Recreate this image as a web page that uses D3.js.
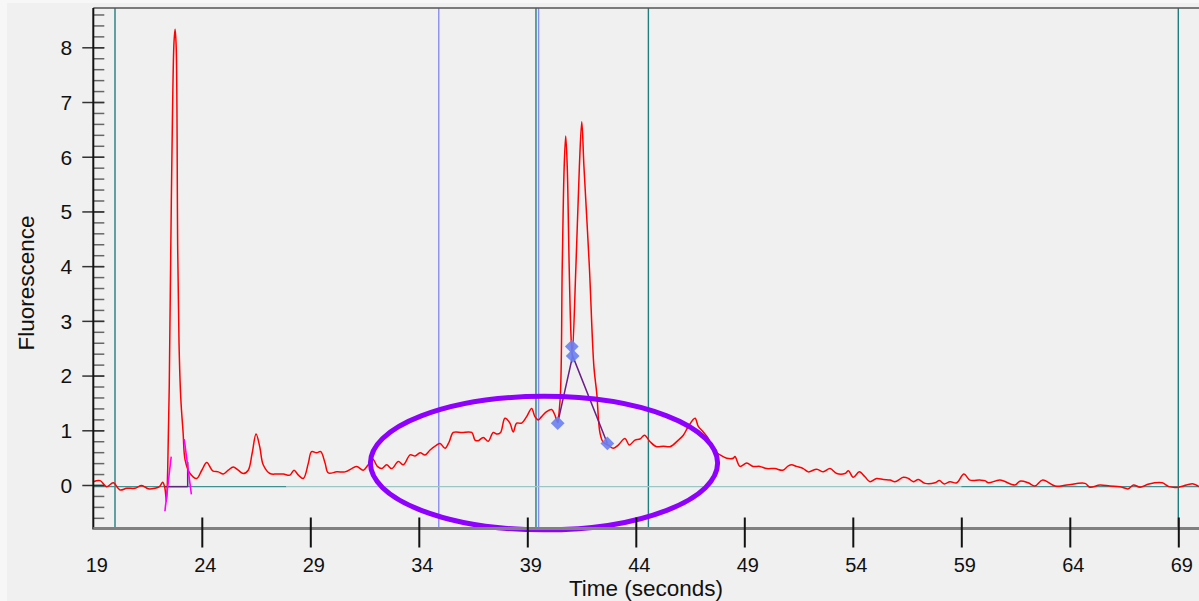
<!DOCTYPE html>
<html>
<head>
<meta charset="utf-8">
<script src="https://cdn.jsdelivr.net/npm/d3@7"></script>
<style>
  html, body { margin: 0; padding: 0; background: #f7f7f7; }
  svg { display: block; font-family: "Liberation Sans", Arial, sans-serif; }
</style>
</head>
<body>
<svg id="chart" width="1199" height="601"></svg>
<script>
// ---- data ----
const time = [19.00,19.31,19.62,19.92,20.23,20.54,20.92,21.23,21.53,21.84,22.05,22.20,22.30,22.37,22.43,22.50,22.57,22.65,22.72,22.77,22.82,22.89,22.95,23.03,23.14,23.23,23.46,23.77,24.00,24.23,24.50,24.76,24.99,25.22,25.45,25.68,25.91,26.14,26.32,26.50,26.67,26.83,27.14,27.45,27.76,28.06,28.25,28.45,28.68,28.91,29.06,29.29,29.48,29.68,29.83,30.22,30.60,30.91,31.14,31.44,31.67,31.88,32.09,32.29,32.52,32.75,33.06,33.29,33.60,33.83,34.06,34.29,34.52,34.82,34.98,35.21,35.40,35.59,35.98,36.44,36.59,36.74,36.97,37.20,37.43,37.61,37.77,37.97,38.20,38.35,38.51,38.74,38.97,39.20,39.35,39.51,39.66,39.89,40.12,40.27,40.38,40.51,40.61,40.70,40.77,40.84,40.93,41.01,41.07,41.24,41.40,41.51,41.61,41.86,42.07,42.20,42.35,42.50,42.73,42.96,43.19,43.50,43.70,43.96,44.19,44.40,44.66,44.96,45.27,45.58,45.96,46.19,46.42,46.73,46.88,47.11,47.34,47.57,47.88,48.19,48.49,48.57,48.80,49.11,49.41,49.72,50.03,50.41,50.77,51.03,51.18,51.41,51.72,51.95,52.34,52.64,52.95,53.26,53.64,53.80,54.02,54.30,54.56,54.79,55.10,55.41,55.72,55.94,56.33,56.56,56.79,57.02,57.33,57.79,57.99,58.21,58.48,58.79,59.12,59.40,59.85,60.09,60.25,60.78,61.47,61.70,62.08,62.39,62.75,63.32,63.86,64.70,64.93,65.39,65.85,66.31,66.70,66.93,67.24,67.65,68.26,68.57,69.00,69.38,69.69,69.95];
const fluorescence = [0.06,0.08,-0.03,0.04,-0.09,-0.06,-0.06,-0.01,-0.07,-0.06,-0.03,0.05,-0.06,-0.30,0.30,1.80,4.30,6.80,8.10,8.33,8.00,4.30,2.60,1.60,0.95,0.46,0.21,0.12,0.27,0.41,0.26,0.24,0.20,0.27,0.33,0.27,0.21,0.27,0.58,0.93,0.70,0.37,0.21,0.20,0.20,0.18,0.27,0.18,0.12,0.40,0.61,0.59,0.61,0.40,0.22,0.24,0.24,0.30,0.34,0.27,0.37,0.47,0.34,0.30,0.37,0.30,0.43,0.37,0.55,0.53,0.59,0.55,0.64,0.73,0.76,0.67,0.79,0.96,0.96,0.96,0.82,0.81,0.87,0.80,0.96,0.93,0.96,1.22,1.13,0.97,1.13,1.13,1.25,1.40,1.25,1.19,1.25,1.34,1.38,1.28,1.16,1.55,3.99,5.82,6.38,5.82,3.99,2.77,2.35,3.99,5.82,6.64,5.82,3.99,2.16,1.68,0.95,0.78,0.73,0.67,0.73,0.85,0.73,0.82,0.84,0.91,0.79,0.70,0.71,0.70,0.82,0.91,1.07,1.22,1.07,0.97,0.85,0.64,0.55,0.49,0.49,0.52,0.34,0.40,0.34,0.34,0.30,0.30,0.27,0.35,0.37,0.34,0.30,0.24,0.29,0.24,0.30,0.21,0.21,0.26,0.14,0.24,0.15,0.06,0.12,0.10,0.09,0.06,0.14,0.12,0.06,0.10,0.03,0.04,0.08,0.02,0.06,0.04,0.20,0.09,0.09,0.08,0.04,0.09,0.00,0.07,0.04,-0.02,0.09,-0.02,0.00,0.03,-0.04,0.00,-0.02,-0.03,-0.07,0.00,-0.04,0.02,0.04,-0.03,-0.04,0.00,0.02,-0.03];

// peak marker diamonds
const markerTime = [40.40, 41.05, 41.09, 42.69];
const markerValue = [1.13, 2.53, 2.36, 0.76];

// vertical reference lines
const tealLines = [20.0, 39.40, 44.58, 69.0];
const blueLines = [34.92, 39.52];

// baseline
const baselineValue = -0.03;
const baselineSegments = [[19, 27.9, "dark"], [27.9, 59.0, "light"], [59.0, 70, "dark"]];
const peakBaseline = [22.30, 23.35];
const tangentLeft = [[22.30, -0.48], [22.59, 0.52]];
const tangentRight = [[23.19, 0.84], [23.52, -0.17]];

// ticks
const xTickValues = [19, 24, 29, 34, 39, 44, 49, 54, 59, 64, 69];
const yTickValues = [0, 1, 2, 3, 4, 5, 6, 7, 8];

// annotation ellipse (data units)
const ellipseCenter = [39.77, 0.40];
const ellipseRadius = [8.0, 1.22];

// ---- chart ----
const svg = d3.select("#chart");
const x = d3.scaleLinear().domain([19, 70]).range([93.3, 1200]);
const y = d3.scaleLinear().domain([0, 8]).range([485, 47.3]);
const plotTop = 8, plotBottom = 528.5, plotLeft = 93.3, plotRight = 1199;

svg.append("rect").attr("x", 7).attr("y", 3).attr("width", 1192).attr("height", 598).attr("fill", "#f0f0f0");

// vertical lines
svg.append("g").selectAll("line").data(blueLines).join("line")
  .attr("x1", d => x(d)).attr("x2", d => x(d)).attr("y1", plotTop).attr("y2", plotBottom)
  .attr("stroke", "#8c8cf0").attr("stroke-width", 1.4);
svg.append("g").selectAll("line").data(tealLines).join("line")
  .attr("x1", d => x(d)).attr("x2", d => x(d)).attr("y1", plotTop).attr("y2", plotBottom)
  .attr("stroke", "#1f7f80").attr("stroke-width", 1.4);

// baseline
svg.append("g").selectAll("line").data(baselineSegments).join("line")
  .attr("x1", d => x(d[0])).attr("x2", d => Math.min(x(d[1]), plotRight))
  .attr("y1", y(baselineValue)).attr("y2", y(baselineValue))
  .attr("stroke", d => d[2] === "dark" ? "#3f9090" : "#9cc6c6").attr("stroke-width", 1.4);

// curve
const pts = time.map((t, i) => [t, fluorescence[i]]);
const line = d3.line().x(d => x(d[0])).y(d => y(d[1])).curve(d3.curveCatmullRom.alpha(0.5));
svg.append("path").datum(pts).attr("d", line)
  .attr("fill", "none").attr("stroke", "#ff0000").attr("stroke-width", 1.5).attr("stroke-linejoin", "round");

// peak integration baseline + drop line
svg.append("line").attr("x1", x(peakBaseline[0])).attr("x2", x(peakBaseline[1]))
  .attr("y1", y(baselineValue)).attr("y2", y(baselineValue))
  .attr("stroke", "#5a2a7a").attr("stroke-width", 1.5);
svg.append("line").attr("x1", x(peakBaseline[1])).attr("x2", x(peakBaseline[1]))
  .attr("y1", y(baselineValue)).attr("y2", y(0.42))
  .attr("stroke", "#5a2a7a").attr("stroke-width", 1.5);

// tangents
[tangentLeft, tangentRight].forEach(seg => {
  svg.append("line").attr("x1", x(seg[0][0])).attr("y1", y(seg[0][1]))
    .attr("x2", x(seg[1][0])).attr("y2", y(seg[1][1]))
    .attr("stroke", "#ff00ff").attr("stroke-width", 1.6);
});

// marker connector
const conn = [0, 2, 3].map(i => [markerTime[i], markerValue[i]]);
svg.append("path").datum(conn).attr("d", d3.line().x(d => x(d[0])).y(d => y(d[1])))
  .attr("fill", "none").attr("stroke", "#6a1f86").attr("stroke-width", 1.5);

// diamonds
svg.append("g").selectAll("path").data(markerTime.map((t, i) => [t, markerValue[i]])).join("path")
  .attr("transform", d => `translate(${x(d[0])},${y(d[1])})`)
  .attr("d", d3.symbol(d3.symbolDiamond2, 120))
  .attr("fill", "#6a7ff0").attr("fill-opacity", 0.9);

// ellipse
svg.append("ellipse")
  .attr("cx", x(ellipseCenter[0])).attr("cy", y(ellipseCenter[1]))
  .attr("rx", x(ellipseCenter[0] + ellipseRadius[0]) - x(ellipseCenter[0]))
  .attr("ry", y(ellipseCenter[1] - ellipseRadius[1]) - y(ellipseCenter[1]))
  .attr("fill", "none").attr("stroke", "#8f00ff").attr("stroke-width", 5);

// frame top
svg.append("line").attr("x1", plotLeft).attr("x2", plotRight).attr("y1", plotTop).attr("y2", plotTop)
  .attr("stroke", "#555").attr("stroke-width", 1.5);

// y axis: minor ticks
const minor = d3.range(-3, 44).map(i => +(i * 0.2).toFixed(1));
svg.append("g").attr("transform", `translate(${plotLeft},0)`)
  .call(d3.axisRight(y).tickValues(minor).tickSize(11).tickFormat(""))
  .call(g => g.select(".domain").remove())
  .call(g => g.selectAll("line").attr("stroke", "#666").attr("stroke-width", 1.5));
// y axis: major ticks + labels
svg.append("g").attr("transform", `translate(${plotLeft},0)`)
  .call(d3.axisLeft(y).tickValues(yTickValues).tickSize(11).tickPadding(10).tickFormat(d3.format("d")))
  .call(g => g.select(".domain").remove())
  .call(g => g.selectAll("line").attr("x2", -11).attr("x1", 11).attr("stroke", "#333").attr("stroke-width", 1.5))
  .call(g => g.selectAll("text").attr("font-size", 21).attr("dy", "0.35em").attr("fill", "#111").attr("font-family", "Liberation Sans, Arial, sans-serif"));
svg.append("line").attr("x1", plotLeft).attr("x2", plotLeft).attr("y1", plotTop).attr("y2", plotBottom + 1)
  .attr("stroke", "#111").attr("stroke-width", 2);

// x axis
svg.append("line").attr("x1", plotLeft).attr("x2", plotRight).attr("y1", plotBottom).attr("y2", plotBottom)
  .attr("stroke", "#808080").attr("stroke-width", 3);
svg.append("g").attr("transform", `translate(0,${plotBottom})`)
  .call(d3.axisBottom(x).tickValues(xTickValues).tickSize(19).tickFormat(d3.format("d")))
  .call(g => g.select(".domain").remove())
  .call(g => g.selectAll(".tick line").attr("y1", -11).attr("stroke", "#111").attr("stroke-width", 2)
     .attr("display", d => d === 19 ? "none" : null))
  .call(g => g.selectAll("text").attr("y", 43.5).attr("dy", 0).attr("dx", 3).attr("font-size", 20)
     .attr("fill", "#111").attr("font-family", "Liberation Sans, Arial, sans-serif"));

// axis titles
svg.append("text").attr("x", 646).attr("y", 596).attr("text-anchor", "middle")
  .attr("font-size", 22.5).attr("fill", "#111").text("Time (seconds)");
svg.append("text").attr("transform", "translate(34,283) rotate(-90)").attr("text-anchor", "middle")
  .attr("font-size", 22.5).attr("fill", "#111").text("Fluorescence");
</script>
</body>
</html>
